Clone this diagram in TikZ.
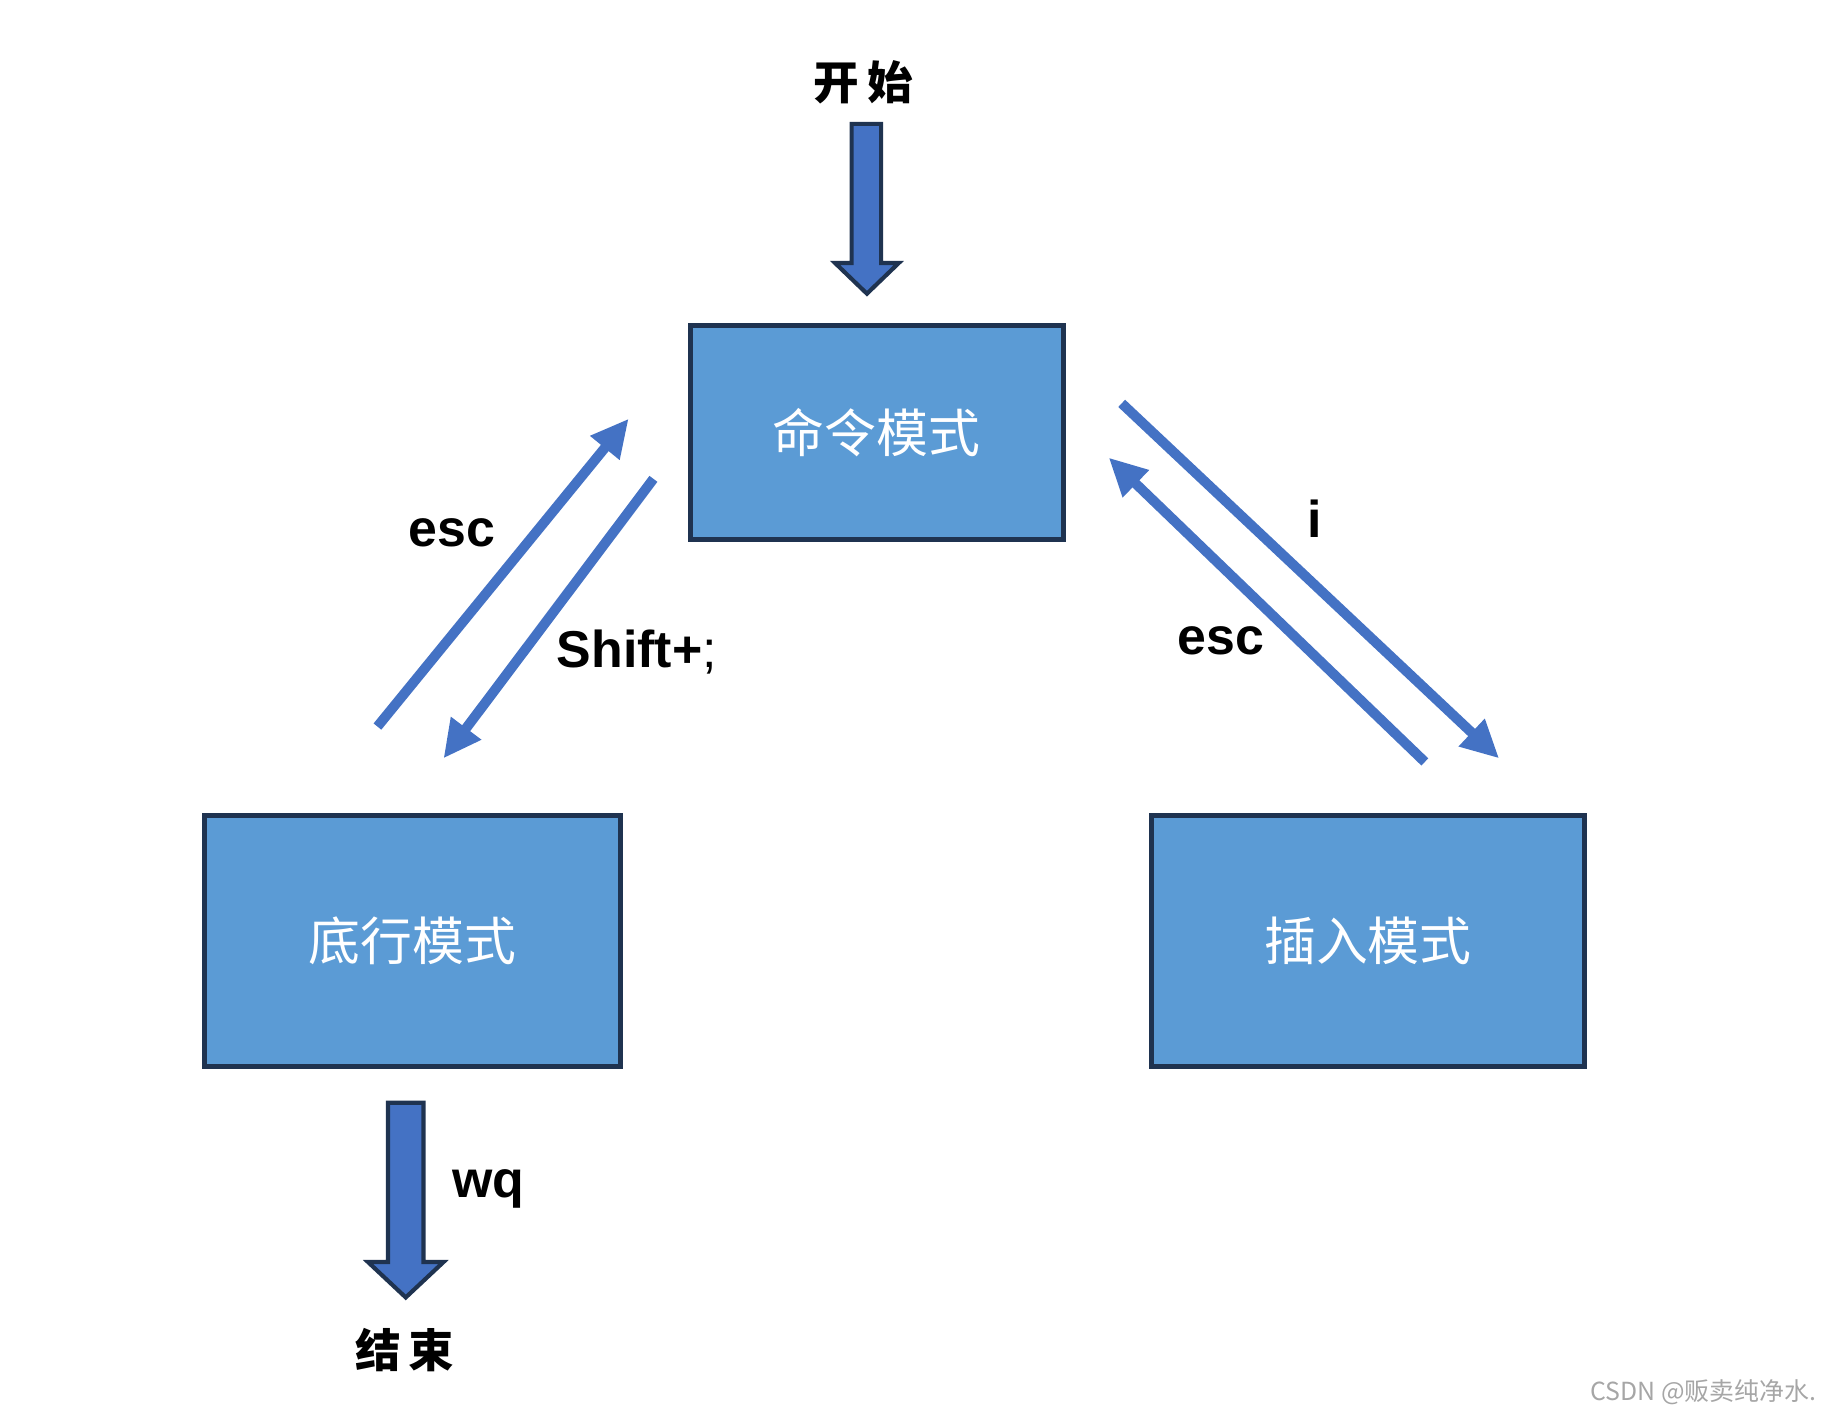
\documentclass[tikz,border=0pt]{standalone}
\usepackage{fontspec}
\setmainfont{Liberation Sans}
\newfontfamily\cjk{Noto Sans CJK SC}
\usetikzlibrary{arrows.meta}
\definecolor{boxblue}{HTML}{5B9BD5}
\definecolor{arrblue}{HTML}{4472C4}
\definecolor{edge}{HTML}{1F3350}
\tikzset{
  mode/.style={rectangle, draw=edge, line width=1.2pt, fill=boxblue,
    text=white, font=\cjk\fontsize{12.5}{14}\selectfont, anchor=north west},
  bigarrow/.style={draw=edge, fill=arrblue, line width=1pt, line join=miter},
  flow/.style={draw=arrblue, line width=2.4pt, -{Triangle[length=0.32cm,width=0.3cm]}},
  keylab/.style={font=\bfseries\fontsize{12.5}{14}\selectfont},
  cjklab/.style={font=\cjk\bfseries\fontsize{11}{13}\selectfont}
}
\begin{document}
\begin{tikzpicture}[x=0.01cm,y=-0.01cm]
  \useasboundingbox (0,0) rectangle (1560,1192);
  \node (cmd) [mode, minimum width=3.16cm, minimum height=1.81cm] at (583,274) {命令模式};
  \node (last) [mode, minimum width=3.53cm, minimum height=2.13cm] at (171,689) {底行模式};
  \node (ins) [mode, minimum width=3.67cm, minimum height=2.13cm] at (974,689) {插入模式};
  \node (start) [cjklab] at (732,70) {开\,始};
  \node (stop) [cjklab] at (343,1145) {结\,束};
  % block arrows
  \draw [bigarrow] (722,105) -- (747,105) -- (747,223) -- (762,223) -- (735,249)
    -- (708,223) -- (722,223) -- cycle;
  \draw [bigarrow] (329,935) -- (359,935) -- (359,1070) -- (376,1070) -- (344,1100)
    -- (312,1070) -- (329,1070) -- cycle;
  \coordinate (a1) at (320,616); \coordinate (a2) at (533,355);
  \coordinate (b1) at (554,406); \coordinate (b2) at (376,643);
  \coordinate (c1) at (951,342); \coordinate (c2) at (1271,643);
  \coordinate (d1) at (1208,646); \coordinate (d2) at (940,388);
  \draw [flow] (a1) -- (a2);
  \draw [flow] (b1) -- (b2);
  \draw [flow] (c1) -- (c2);
  \draw [flow] (d1) -- (d2);
  \node [keylab] at (383,452) {esc};
  \node [keylab] at (540,553) {Shift+\normalfont;};
  \node [keylab] at (1115,440) {i};
  \node [keylab] at (1035,543) {esc};
  \node [keylab] at (414,1008) {wq};
  \node [text=gray!70, anchor=east, font=\cjk\fontsize{6}{7}\selectfont] at (1552,1180) {CSDN @贩卖纯净水.};
\end{tikzpicture}
\end{document}
